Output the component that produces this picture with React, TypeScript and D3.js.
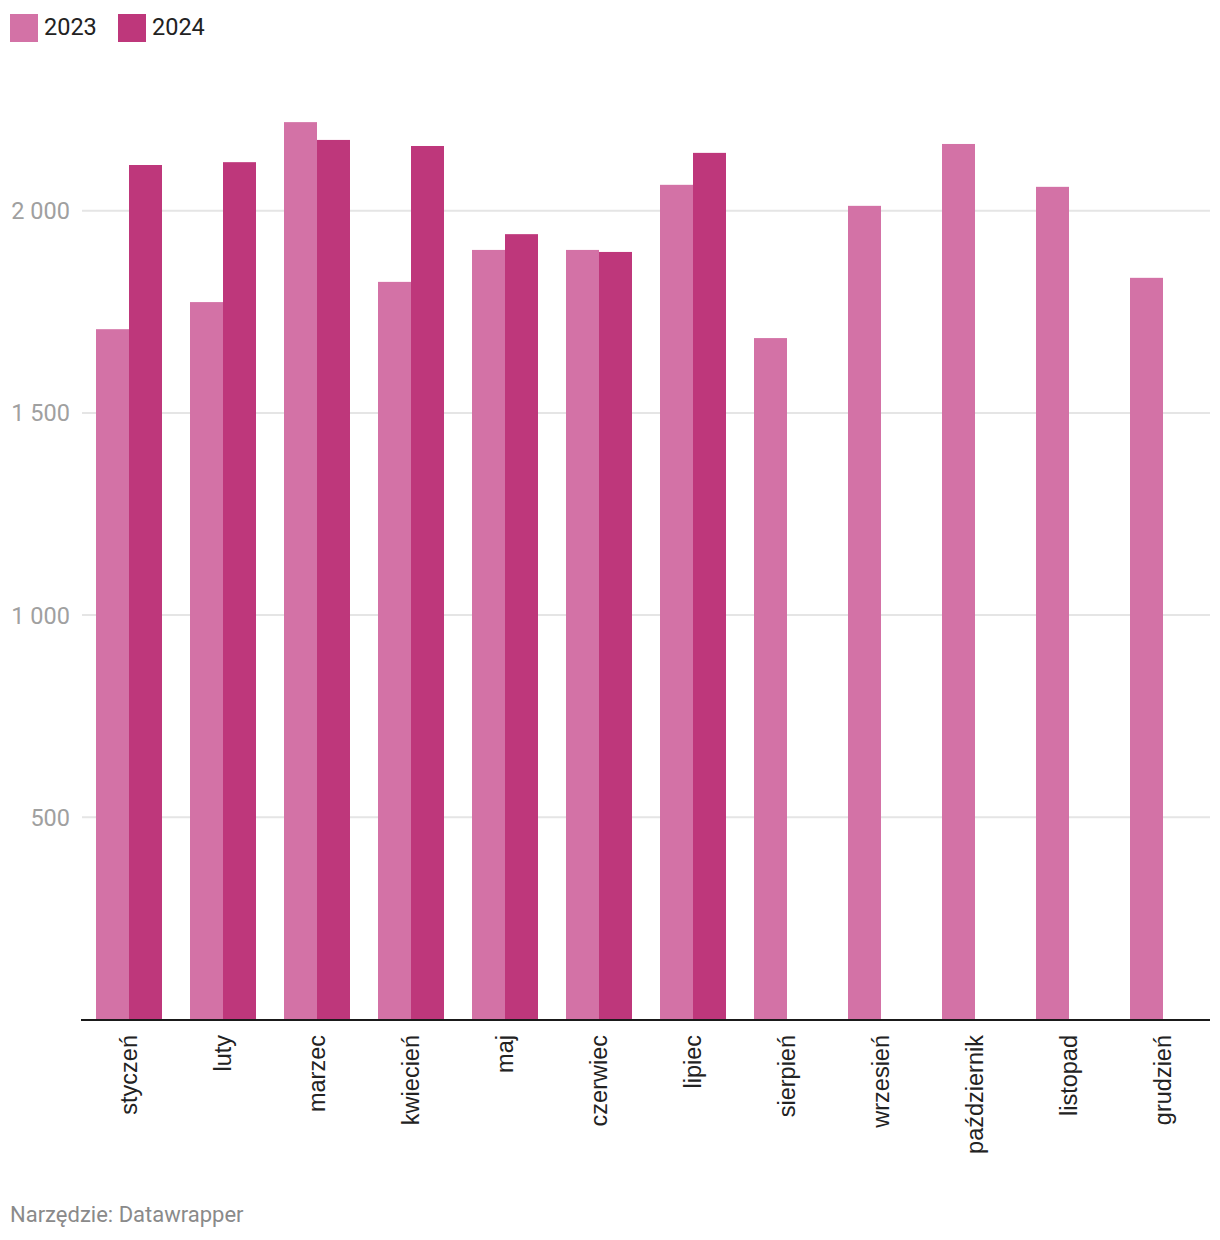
import React from "react";
import * as d3 from "d3";

const months = ["styczeń","luty","marzec","kwiecień","maj","czerwiec","lipiec","sierpień","wrzesień","październik","listopad","grudzień"];
const series = ["2023","2024"];
const values2023 = [1707,1774,2219,1824,1903,1903,2064,1685,2012,2165,2059,1834];
const values2024: (number|null)[] = [2113,2120,2175,2160,1942,1898,2143,null,null,null,null,null];
const yTicks = [500,1000,1500,2000];
const tickLabels = ["500","1 000","1 500","2 000"];
const colors = ["#d372a6","#be377b"];

export default function App() {
  const W = 1220, H = 1240;
  const x0 = d3.scaleBand<string>().domain(months).range([82,1210]).paddingInner(28/94).paddingOuter(14/94);
  const x1 = d3.scaleBand<string>().domain(series).range([0, x0.bandwidth()]);
  const y = d3.scaleLinear().domain([0,2000]).range([1019.5,210.7]);
  const data = [values2023, values2024];
  const roboto = "Roboto, 'Noto Sans', sans-serif";
  return (
    <svg width={W} height={H} style={{position:"absolute",left:0,top:0,background:"#fff"}}>
      {series.map((s,i)=>{
        const lx = i===0 ? 10 : 118;
        return (
          <g key={s}>
            <rect x={lx} y={14} width={28} height={28} fill={colors[i]} />
            <text x={lx+34} y={35} fontFamily={roboto} fontSize={23.5} fill="#222">{s}</text>
          </g>
        );
      })}
      {yTicks.map((t,i)=>(
        <g key={t}>
          <line x1={82} x2={1210} y1={y(t)} y2={y(t)} stroke="#e5e5e5" strokeWidth={2} />
          <text x={70} y={y(t)} dy="0.36em" textAnchor="end" fontFamily={roboto} fontSize={23.5} fill="#a0a0a0">{tickLabels[i]}</text>
        </g>
      ))}
      {data.map((vals,si)=>vals.map((v,mi)=> v==null ? null : (
        <rect key={si+"-"+mi} x={(x0(months[mi]) as number)+(x1(series[si]) as number)} y={y(v)} width={x1.bandwidth()} height={y(0)-y(v)} fill={colors[si]} />
      )))}
      <line x1={81} x2={1210} y1={1020} y2={1020} stroke="#1a1a1a" strokeWidth={2} />
      {months.map(m=>{
        const cx = (x0(m) as number) + x0.bandwidth()/2;
        return (
          <text key={m} transform={`translate(${cx},1035) rotate(-90)`} textAnchor="end" dy="0.34em" fontFamily="'Liberation Sans', Arial, sans-serif" fontSize={23.5} fill="#222">{m}</text>
        );
      })}
      <text x={10} y={1222} fontFamily={roboto} fontSize={22} fill="#8a8a8a">Narzędzie: Datawrapper</text>
    </svg>
  );
}
